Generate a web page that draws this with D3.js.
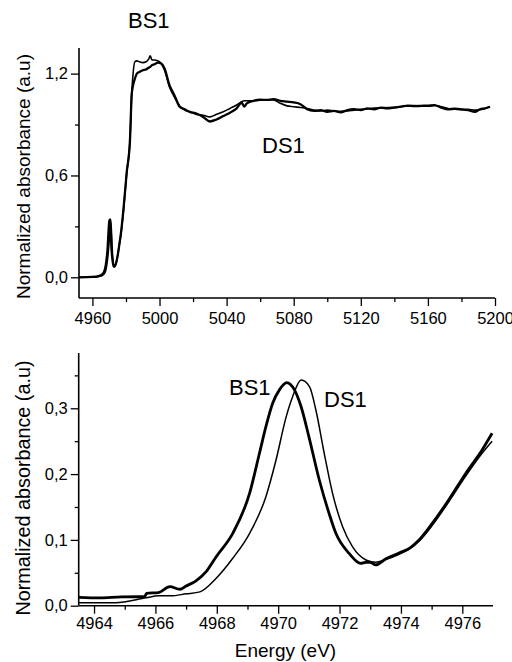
<!DOCTYPE html>
<html>
<head>
<meta charset="utf-8">
<script src="https://cdn.jsdelivr.net/npm/d3@7"></script>
<style>
  body { margin: 0; background: #fff; }
  svg text { font-family: "Liberation Sans", Arial, sans-serif; fill: #000; }
</style>
</head>
<body>
<svg id="chart" width="512" height="662"></svg>
<script>
// top panel: full spectrum (E in eV, normalized absorbance)
const topEnergy = [4952, 4960, 4964, 4966, 4967, 4968, 4969, 4969.6, 4970, 4970.3, 4970.8, 4971.3, 4972, 4972.7,
  4973.2, 4974, 4975, 4976, 4977, 4978.5, 4980.4, 4982.4, 4983.4, 4984, 4985.3, 4986.5, 4988, 4990, 4992,
  4993.5, 4994.5, 4995.5, 4997, 4999, 5001, 5003, 5006, 5009, 5012, 5015, 5018, 5022, 5026, 5030, 5034,
  5038, 5042, 5046, 5049, 5050.5, 5052, 5056, 5060, 5064, 5068, 5072, 5076, 5080, 5084, 5088, 5092, 5096,
  5100, 5104, 5108, 5112, 5116, 5120, 5124, 5128, 5132, 5136, 5140, 5144, 5148, 5152, 5156, 5160, 5164,
  5168, 5172, 5176, 5180, 5184, 5188, 5191, 5194, 5197];
const topBS1 = [0, 0.002, 0.008, 0.02, 0.034, 0.075, 0.165, 0.27, 0.328, 0.339, 0.30, 0.18, 0.10, 0.064,
  0.062, 0.08, 0.125, 0.19, 0.26, 0.40, 0.614, 0.81, 1.076, 1.12, 1.17, 1.20, 1.21, 1.22, 1.225,
  1.235, 1.24, 1.25, 1.255, 1.265, 1.26, 1.23, 1.13, 1.07, 1.005, 0.99, 0.975, 0.965, 0.945, 0.918, 0.93,
  0.95, 0.97, 0.995, 1.03, 1.005, 1.025, 1.04, 1.046, 1.045, 1.05, 1.04, 1.035, 1.03, 1.02, 0.99, 0.98, 0.985,
  0.975, 0.98, 0.972, 0.985, 0.99, 0.985, 0.995, 0.99, 1.0, 0.995, 1.0, 1.005, 1.012, 1.008, 1.01, 1.012, 1.015,
  1.0, 0.99, 0.993, 0.99, 0.985, 0.975, 0.99, 0.995, 1.005];
const topDS1 = [0, 0, 0.005, 0.012, 0.02, 0.042, 0.105, 0.165, 0.215, 0.29, 0.343, 0.28, 0.13, 0.075,
  0.066, 0.08, 0.125, 0.19, 0.25, 0.39, 0.61, 0.81, 1.076, 1.17, 1.27, 1.275, 1.27, 1.265, 1.27,
  1.285, 1.305, 1.28, 1.28, 1.275, 1.26, 1.22, 1.12, 1.06, 1.01, 0.985, 0.975, 0.96, 0.955, 0.945, 0.96,
  0.975, 0.995, 1.015, 1.035, 1.04, 1.04, 1.04, 1.045, 1.046, 1.045, 1.025, 1.01, 1.005, 1.0, 0.995, 0.985, 0.98,
  0.985, 0.98, 0.978, 0.98, 0.985, 0.99, 0.992, 0.997, 0.998, 1.0, 1.002, 1.005, 1.01, 1.012, 1.01, 1.008, 1.012,
  1.005, 0.995, 0.99, 0.988, 0.99, 0.985, 0.988, 0.995, 1.005];

// bottom panel: pre-edge region
const bs1Energy = [4963.5, 4964.2, 4964.9, 4965.65, 4965.71, 4966.1, 4966.47, 4966.8, 4967.0, 4967.3, 4967.66,
  4967.98, 4968.52, 4969.07, 4969.39, 4969.6, 4969.82, 4970.04, 4970.28, 4970.53, 4970.75, 4971.0, 4971.34,
  4971.66, 4971.88, 4972.31, 4972.69, 4972.86, 4973.0, 4973.18, 4973.5, 4973.94, 4974.3, 4974.59, 4975.02,
  4975.56, 4976.11, 4976.65, 4976.97];
const bs1Value = [0.0128, 0.012, 0.0135, 0.0137, 0.0188, 0.02, 0.029, 0.025, 0.03, 0.037, 0.052,
  0.0745, 0.11, 0.171, 0.2316, 0.272, 0.3076, 0.328, 0.339, 0.328, 0.302, 0.257, 0.191,
  0.140, 0.110, 0.0796, 0.0644, 0.066, 0.066, 0.062, 0.071, 0.080, 0.088, 0.0999, 0.125,
  0.161, 0.201, 0.237, 0.262];
const ds1Energy = [4963.5, 4964.7, 4965.7, 4966.1, 4966.5, 4967.0, 4967.45, 4967.98, 4968.52, 4969.07, 4969.6,
  4969.93, 4970.26, 4970.47, 4970.75, 4971.02, 4971.23, 4971.5, 4971.77, 4972.1, 4972.42, 4972.86, 4973.18,
  4973.5, 4973.94, 4974.3, 4974.59, 4975.02, 4975.56, 4976.11, 4976.65, 4976.97];
const ds1Value = [0.0046, 0.0046, 0.012, 0.015, 0.015, 0.018, 0.021, 0.0416, 0.072, 0.11, 0.1657,
  0.2214, 0.287, 0.3176, 0.343, 0.333, 0.297, 0.2316, 0.171, 0.12, 0.0897, 0.0695, 0.066,
  0.07, 0.078, 0.087, 0.098, 0.122, 0.158, 0.197, 0.232, 0.25];

const topXTicks = [4960, 5000, 5040, 5080, 5120, 5160, 5200];
const topYTicks = [0, 0.6, 1.2];
const botXTicks = [4964, 4966, 4968, 4970, 4972, 4974, 4976];
const botYTicks = [0, 0.1, 0.2, 0.3];

const svg = d3.select('#chart');
const comma = d3.formatLocale({decimal: ',', thousands: '.', grouping: [3], currency: ['', '']}).format('.1f');

function drawPanel(opts) {
  const g = svg.append('g');
  const x = d3.scaleLinear().domain(opts.xDomain).range(opts.xRange);
  const y = d3.scaleLinear().domain(opts.yDomain).range(opts.yRange);
  const x0 = opts.xRange[0];
  const y0 = opts.yRange[0];

  // minor ticks
  g.append('g')
    .attr('transform', `translate(0,${y0})`)
    .call(d3.axisBottom(x).tickValues(opts.xMinor).tickSize(4).tickSizeOuter(0).tickFormat(''))
    .call((a) => a.select('.domain').remove());
  g.append('g')
    .attr('transform', `translate(${x0},0)`)
    .call(d3.axisLeft(y).tickValues(opts.yMinor).tickSize(4).tickSizeOuter(0).tickFormat(''))
    .call((a) => a.select('.domain').remove());

  const xAxis = g.append('g')
    .attr('transform', `translate(0,${y0})`)
    .call(d3.axisBottom(x).tickValues(opts.xTicks).tickSize(8).tickSizeOuter(0)
      .tickPadding(opts.xPad).tickFormat(d3.format('d')));
  const yAxis = g.append('g')
    .attr('transform', `translate(${x0},0)`)
    .call(d3.axisLeft(y).tickValues(opts.yTicks).tickSize(8).tickSizeOuter(0)
      .tickPadding(3).tickFormat(comma));

  g.selectAll('.tick line').attr('stroke', '#000').attr('stroke-width', 1.3);
  g.selectAll('.domain').attr('stroke', '#000').attr('stroke-width', 1.6);
  xAxis.selectAll('text').attr('font-size', 16.5).attr('font-family', null);
  yAxis.selectAll('text').attr('font-size', 16.5).attr('font-family', null);
  // domain runs the full box side
  xAxis.select('.domain').attr('d', `M${x0},0H${opts.xRange[1]}`);
  yAxis.select('.domain').attr('d', `M0,${y0}V${opts.yRange[1]}`);

  const line = d3.line()
    .x((d) => x(d[0]))
    .y((d) => y(d[1]))
    .curve(d3.curveMonotoneX);

  opts.series.forEach((s) => {
    g.append('path')
      .datum(d3.zip(s.e, s.v))
      .attr('fill', 'none')
      .attr('stroke', '#000')
      .attr('stroke-width', s.w)
      .attr('stroke-linejoin', 'round')
      .attr('d', line);
  });

  g.append('text')
    .attr('transform', `translate(${opts.yLabelX},${opts.yLabelY}) rotate(-90)`)
    .attr('text-anchor', 'middle')
    .attr('font-size', opts.yLabelSize)
    .text('Normalized absorbance (a.u)');

  opts.labels.forEach((l) => {
    g.append('text')
      .attr('x', l.x)
      .attr('y', l.y)
      .attr('font-size', 22)
      .text(l.t);
  });
  return g;
}

drawPanel({
  xDomain: [4952, 5200], xRange: [79, 495],
  yDomain: [-0.122, 1.351], yRange: [298, 48],
  xTicks: topXTicks, xMinor: d3.range(4980, 5200, 40),
  yTicks: topYTicks, yMinor: [0.3, 0.9],
  xPad: 6,
  series: [
    {e: topEnergy, v: topDS1, w: 1.6},
    {e: topEnergy, v: topBS1, w: 2.3},
  ],
  yLabelX: 30, yLabelY: 176.5, yLabelSize: 19,
  labels: [{t: 'BS1', x: 128, y: 28}, {t: 'DS1', x: 262, y: 153}],
});

drawPanel({
  xDomain: [4963.5, 4977], xRange: [78.7, 493],
  yDomain: [0, 0.384], yRange: [605.7, 353],
  xTicks: botXTicks, xMinor: d3.range(4965, 4977, 2),
  yTicks: botYTicks, yMinor: [0.05, 0.15, 0.25, 0.35],
  xPad: 4,
  series: [
    {e: ds1Energy, v: ds1Value, w: 1.5},
    {e: bs1Energy, v: bs1Value, w: 2.8},
  ],
  yLabelX: 30, yLabelY: 488, yLabelSize: 19.8,
  labels: [{t: 'BS1', x: 229, y: 395}, {t: 'DS1', x: 324, y: 407}],
});

svg.append('text')
  .attr('x', 285.5)
  .attr('y', 657)
  .attr('text-anchor', 'middle')
  .attr('font-size', 19)
  .text('Energy (eV)');
</script>
</body>
</html>
